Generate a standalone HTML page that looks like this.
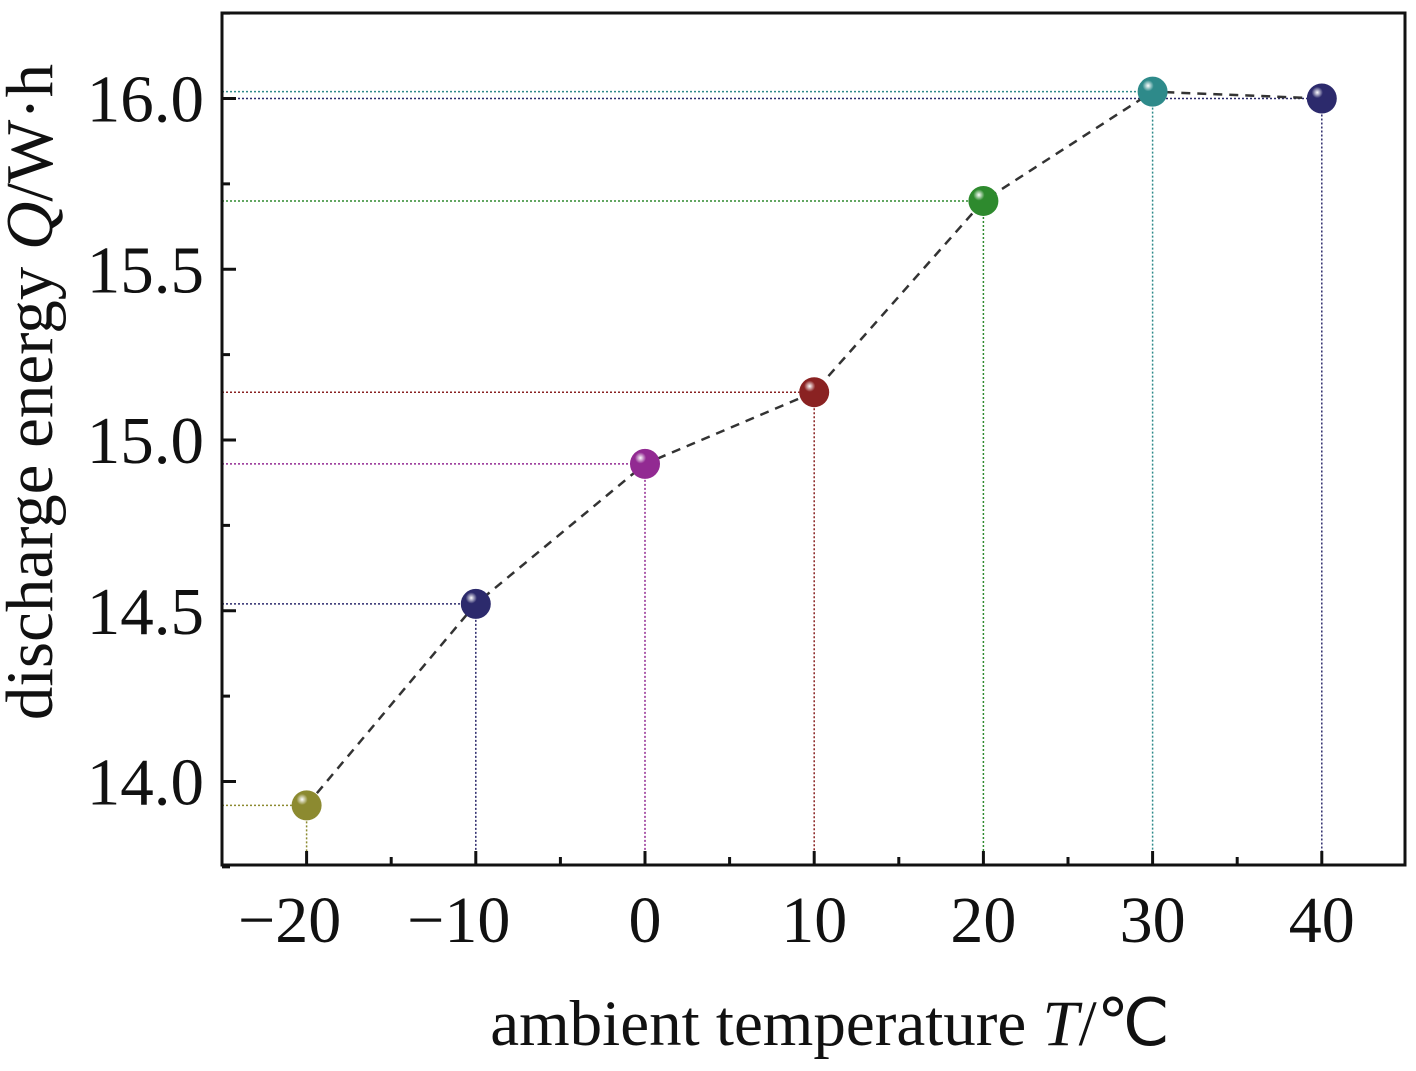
<!DOCTYPE html>
<html><head><meta charset="utf-8"><style>
body{margin:0;background:#fff}
svg{display:block;font-family:"Liberation Serif",serif}
</style></head><body>
<svg id="chart" width="1416" height="1071"></svg>
<script>
const temps=[-20,-10,0,10,20,30,40];
const energy=[13.93,14.52,14.93,15.14,15.70,16.02,16.00];
const colors=['#8c8a30','#2c2a6c','#922a92','#8a2222','#2e8a2e','#2e8a8a','#2c2a6c'];
const xTicks=[-20,-10,0,10,20,30,40];
const xLabels=['\u221220','\u221210','0','10','20','30','40'];
const yTicks=[14.0,14.5,15.0,15.5,16.0];
const yLabels=['14.0','14.5','15.0','15.5','16.0'];
const L=222,R=1405,T=13,B=865;
const xs=v=>645+(v-0)*16.92;
const ys=v=>440-(v-15)*341.5;
const NS='http://www.w3.org/2000/svg';
const svg=document.getElementById('chart');
function mk(tag,attrs,parent){const e=document.createElementNS(NS,tag);for(const k in attrs)e.setAttribute(k,attrs[k]);(parent||svg).appendChild(e);return e;}
const defs=mk('defs',{});
colors.forEach((c,i)=>{const g=mk('radialGradient',{id:'g'+i,cx:'0.35',cy:'0.3',r:'0.75'},defs);
mk('stop',{offset:'0','stop-color':'#fff'},g);mk('stop',{offset:'0.25','stop-color':c},g);mk('stop',{offset:'1','stop-color':c},g);});
temps.forEach((t,i)=>{
const gl=mk('line',{x1:L,y1:ys(energy[i]),x2:xs(t),y2:ys(energy[i]),stroke:colors[i],'stroke-width':1.5,'stroke-dasharray':'2,2'});

const vl=mk('line',{x1:xs(t),y1:ys(energy[i]),x2:xs(t),y2:B,stroke:colors[i],'stroke-width':1.5,'stroke-dasharray':'2,2'});

});
const pl=mk('polyline',{points:temps.map((t,i)=>xs(t)+','+ys(energy[i])).join(' '),fill:'none',stroke:'#333','stroke-width':2.5,'stroke-dasharray':'9,7'});

temps.forEach((t,i)=>{
const c=mk('circle',{cx:xs(t),cy:ys(energy[i]),r:15,fill:'url(#g'+i+')'});

});
const fr=mk('rect',{x:L,y:T,width:R-L,height:B-T,fill:'none',stroke:'#111','stroke-width':3});

xTicks.forEach((t,i)=>{
mk('line',{x1:xs(t),y1:B,x2:xs(t),y2:B-14,stroke:'#111','stroke-width':3});
if(i<xTicks.length-1)mk('line',{x1:xs(t+5),y1:B,x2:xs(t+5),y2:B-8,stroke:'#111','stroke-width':3});
const tx=mk('text',{x:xs(t)-(i<2?17:0),y:942,'text-anchor':'middle','font-size':66,fill:'#111'});tx.textContent=xLabels[i];

});
yTicks.forEach((v,i)=>{
mk('line',{x1:L,y1:ys(v),x2:L+14,y2:ys(v),stroke:'#111','stroke-width':3});
mk('line',{x1:L,y1:ys(v+0.25),x2:L+8,y2:ys(v+0.25),stroke:'#111','stroke-width':3});
if(i==0)mk('line',{x1:L,y1:ys(v-0.25),x2:L+8,y2:ys(v-0.25),stroke:'#111','stroke-width':3});
const tx=mk('text',{x:204,y:ys(v)+23,'text-anchor':'end','font-size':67,fill:'#111'});tx.textContent=yLabels[i];

});
const xt=mk('text',{x:830,y:1045,'text-anchor':'middle','font-size':65,fill:'#111'});
xt.innerHTML='ambient temperature <tspan font-style="italic">T</tspan>/\u2103';

const yt=mk('text',{x:0,y:0,'text-anchor':'middle','font-size':67,fill:'#111',transform:'translate(52,392) rotate(-90)'});
yt.innerHTML='discharge energy <tspan font-style="italic">Q</tspan>/W\u00b7h';

</script>
</body></html>
